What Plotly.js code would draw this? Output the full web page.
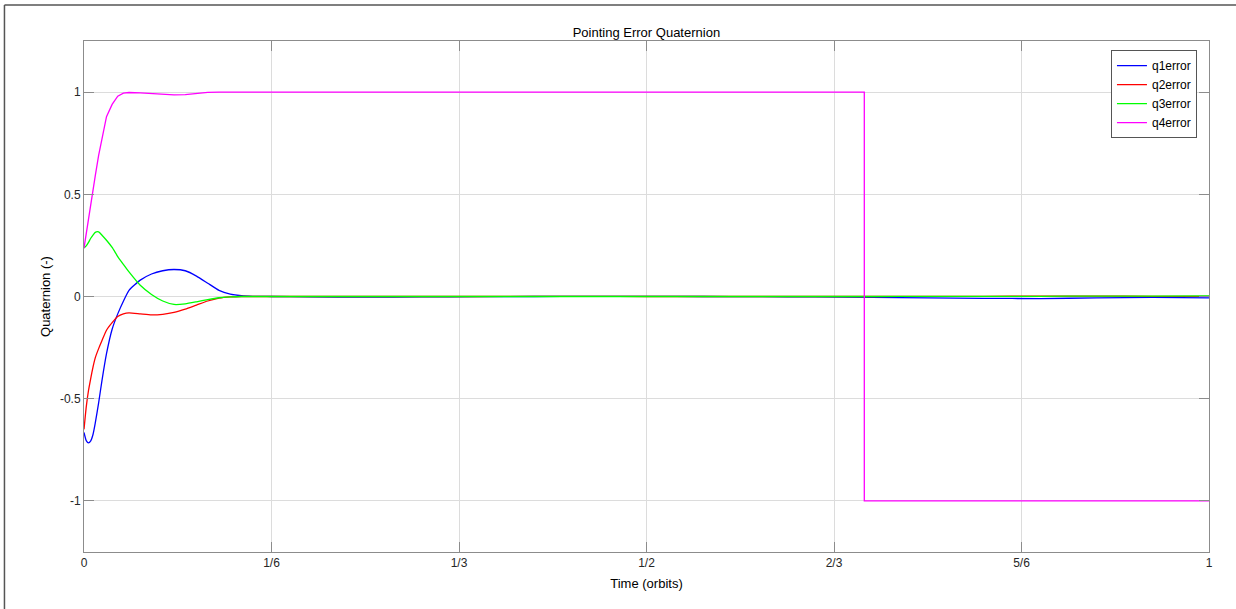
<!DOCTYPE html>
<html>
<head>
<meta charset="utf-8">
<script src="https://cdn.plot.ly/plotly-3.0.1.min.js"></script>
<style>html,body{margin:0;padding:0;background:#fff;}#chart{width:1236px;height:609px;}</style>
</head>
<body>
<div id="chart"></div>
<script>
// Time in orbits
const tEarly = [0,0.002,0.004,0.006,0.008,0.010,0.013,0.016,0.020,0.025,0.030,0.035,0.040,0.050,0.060,0.070,0.080,0.090,0.100,0.110,0.120,0.130,0.140,0.150];
const tLate  = [0.167,0.2,0.25,0.3,0.35,0.4,0.45,0.5,0.55,0.6,0.65,0.7,0.75,0.8,0.85,0.9,0.95,1.0];

const q1Early = [-0.665,-0.705,-0.716,-0.706,-0.675,-0.62,-0.52,-0.41,-0.28,-0.16,-0.085,-0.023,0.03,0.08,0.11,0.126,0.132,0.126,0.10,0.065,0.03,0.012,0.004,0.001];
const q1Late  = [0,-0.002,-0.003,-0.002,-0.001,0,0.001,0.001,0,-0.001,-0.002,-0.004,-0.007,-0.009,-0.01,-0.007,-0.004,-0.007];

const q2Early = [-0.65,-0.54,-0.46,-0.40,-0.345,-0.30,-0.255,-0.215,-0.165,-0.128,-0.098,-0.085,-0.08,-0.085,-0.09,-0.087,-0.078,-0.062,-0.042,-0.022,-0.008,-0.002,0,0];
const q2Late  = [0,0,0,0,0,0.001,0.001,0,0,0,0,0,0.001,0.001,0.002,0.002,0.001,0.001];

const q3Early = [0.237,0.248,0.265,0.285,0.30,0.314,0.316,0.30,0.275,0.24,0.195,0.157,0.12,0.055,0.01,-0.022,-0.039,-0.036,-0.026,-0.015,-0.006,-0.002,0,0];
const q3Late  = [0,0,0,0,0,0,0,0,0,0,0,0,0.001,0.001,0.001,0.002,0.002,0.003];

const q4Early = [0.237,0.31,0.39,0.45,0.53,0.59,0.69,0.78,0.88,0.94,0.98,0.995,0.998,0.996,0.992,0.988,0.986,0.988,0.994,0.999,1,1,1,1];
const tStep = 0.6936;
const q4TailT = [tStep, tStep, 1.0];
const q4TailV = [1, -1, -1];

const xTickVals = [0,1/6,1/3,1/2,2/3,5/6,1];
const xTickText = ['0','1/6','1/3','1/2','2/3','5/6','1'];
const yTickVals = [-1,-0.5,0,0.5,1];
const yTickText = ['-1','-0.5','0','0.5','1'];

const names = ['q1error','q2error','q3error','q4error'];
const colors = ['#0000ff','#ff0000','#00ff00','#ff00ff'];

const series = [
  {x: tEarly.concat(tLate), y: q1Early.concat(q1Late), smooth: true},
  {x: tEarly.concat(tLate), y: q2Early.concat(q2Late), smooth: true},
  {x: tEarly.concat(tLate), y: q3Early.concat(q3Late), smooth: true},
  {x: tEarly.concat(q4TailT), y: q4Early.concat(q4TailV), smooth: false}
];

const traces = series.map((s, i) => ({
  type: 'scatter', mode: 'lines', x: s.x, y: s.y, name: names[i],
  line: s.smooth ? {color: colors[i], width: 1.3, shape: 'spline', smoothing: 0.5}
                 : {color: colors[i], width: 1.3}
}));

const FONT = 'Liberation Sans, Arial, sans-serif';
const axisCommon = {
  showgrid: true, gridcolor: '#dcdcdc', gridwidth: 1,
  zeroline: false, showline: true, linecolor: '#8c8c8c', linewidth: 1,
  mirror: 'ticks', ticks: 'inside', ticklen: 10, tickcolor: '#8c8c8c',
  tickfont: {family: FONT, size: 12, color: '#262626'}
};

const layout = {
  width: 1236, height: 609,
  paper_bgcolor: '#ffffff', plot_bgcolor: '#ffffff',
  margin: {l: 84, r: 27, t: 41, b: 57},
  showlegend: true,
  title: {text: 'Pointing Error Quaternion', x: 0.523, xanchor: 'center', y: 0.947, yanchor: 'middle', yref: 'container',
          font: {family: FONT, size: 13, color: '#000000'}},
  xaxis: Object.assign({}, axisCommon, {
    range: [0, 1], tickmode: 'array', tickvals: xTickVals, ticktext: xTickText,
    title: {text: 'Time (orbits)', font: {family: FONT, size: 13, color: '#000000'}, standoff: 9}
  }),
  yaxis: Object.assign({}, axisCommon, {
    range: [-1.25, 1.25], tickmode: 'array', tickvals: yTickVals, ticktext: yTickText,
    title: {text: 'Quaternion (-)', font: {family: FONT, size: 13, color: '#000000'}, standoff: 6}
  }),
  legend: {
    x: 0.9893, xanchor: 'right', y: 0.982, yanchor: 'top',
    bgcolor: '#ffffff', bordercolor: '#555555', borderwidth: 1,
    font: {family: FONT, size: 12, color: '#000000'},
    itemwidth: 30, tracegroupgap: 0
  },
  shapes: [
    {type: 'line', xref: 'paper', yref: 'paper', x0: -0.0707, x1: 1.03, y0: 1.0705, y1: 1.0705, line: {color: '#555555', width: 1.5}},
    {type: 'line', xref: 'paper', yref: 'paper', x0: -0.0707, x1: -0.0707, y0: 1.0705, y1: -0.12, line: {color: '#555555', width: 1.5}}
  ]
};

Plotly.newPlot('chart', traces, layout, {displayModeBar: false, staticPlot: true});
</script>
</body>
</html>
